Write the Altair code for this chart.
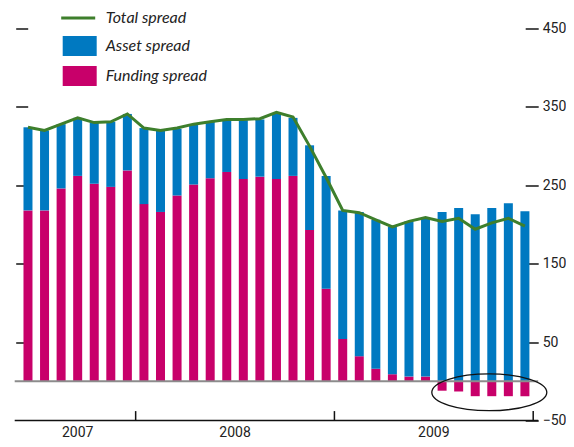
import altair as alt
import pandas as pd

# ---- data ----
months = ["2007-06", "2007-07", "2007-08", "2007-09", "2007-10", "2007-11", "2007-12",
          "2008-01", "2008-02", "2008-03", "2008-04", "2008-05", "2008-06",
          "2008-07", "2008-08", "2008-09", "2008-10", "2008-11", "2008-12",
          "2009-01", "2009-02", "2009-03", "2009-04", "2009-05", "2009-06",
          "2009-07", "2009-08", "2009-09", "2009-10", "2009-11", "2009-12"]
funding_spread = [218, 218, 246, 262, 252, 248, 269, 226, 216, 237, 251, 259, 267, 258, 261, 258,
                  262, 193, 118, 54, 32, 16, 9, 6, 6, -12, -13, -19, -19, -19, -19]
asset_spread = [106, 102, 82, 74, 78, 83, 72, 97, 104, 85, 76, 72, 67, 75, 73, 83,
                74, 108, 144, 164, 184, 190, 188, 198, 203, 216, 221, 213, 221, 227, 217]
total_spread = [324, 320, 328, 336, 330, 331, 341, 323, 320, 323, 328, 331, 334, 334, 335, 343,
                337, 300, 260, 218, 215, 206, 197, 204, 209, 204, 208, 194, 202, 208, 198]
years = ["2007", "2008", "2009"]
months_per_year = [7, 12, 12]
y_ticks = [-50, 50, 150, 250, 350, 450]

BLUE = "#0079C1"
MAGENTA = "#C8006A"
GREEN = "#3E7F2C"
NUM_FONT = "Roboto"
LEG_FONT = "Lato"

# ---- tables ----
rows = []
for i, m in enumerate(months):
    rows.append({"idx": i, "month": m, "series": "Funding spread", "value": funding_spread[i], "ord": 0})
    rows.append({"idx": i, "month": m, "series": "Asset spread", "value": asset_spread[i], "ord": 1})
bars_df = pd.DataFrame(rows)
line_df = pd.DataFrame({"idx": list(range(len(months))), "month": months,
                        "total": total_spread, "series": "Total spread"})

starts, ends, s = [], [], -0.5
for n in months_per_year:
    starts.append(s)
    ends.append(s + n)
    s += n
years_df = pd.DataFrame({"year": years, "start": starts, "end": ends,
                         "centre": [(a + b) / 2 for a, b in zip(starts, ends)]})

xscale = alt.Scale(domain=[-0.5, len(months) - 0.5], nice=False, zero=False)
yscale = alt.Scale(domain=[-50, 450], nice=False, zero=False)

bars = alt.Chart(bars_df).mark_bar(size=9).encode(
    x=alt.X("idx:Q", scale=xscale, axis=None),
    y=alt.Y("value:Q", scale=yscale, stack="zero",
            axis=alt.Axis(orient="right", values=y_ticks, offset=-13, tickSize=13,
                          tickColor="#222", tickWidth=1.6, domain=False, grid=False,
                          labelFont=NUM_FONT, labelFontSize=14, labelColor="#222",
                          labelPadding=4, title=None)),
    color=alt.Color("series:N",
                    scale=alt.Scale(domain=["Asset spread", "Funding spread"], range=[BLUE, MAGENTA]),
                    legend=alt.Legend(orient="none", legendX=55, legendY=7.5, title=None,
                                      symbolType="M-1.7,-1H1.7V1H-1.7Z", symbolSize=400,
                                      symbolStrokeWidth=0, labelFont=LEG_FONT,
                                      labelFontStyle="italic", labelFontSize=16,
                                      labelColor="#222", labelOffset=16, rowPadding=10,
                                      padding=0)),
    order=alt.Order("ord:Q"),
)

baseline = alt.Chart(pd.DataFrame({"v": [0]})).mark_rule(color="#8C8C8C", strokeWidth=2).encode(
    y=alt.Y("v:Q", scale=yscale, axis=None)
)

bottom_line = alt.Chart(pd.DataFrame({"v": [y_ticks[0]]})).mark_rule(color="#111", strokeWidth=1.5).encode(
    y=alt.Y("v:Q", scale=yscale, axis=None)
)

line = alt.Chart(line_df).mark_line(strokeWidth=3).encode(
    x=alt.X("idx:Q", scale=xscale, axis=None),
    y=alt.Y("total:Q", scale=yscale,
            axis=alt.Axis(orient="left", values=y_ticks[1:], offset=-13, tickSize=12,
                          tickColor="#222", tickWidth=1.6, domain=False, labels=False,
                          grid=False, title=None)),
    stroke=alt.Stroke("series:N", scale=alt.Scale(domain=["Total spread"], range=[GREEN]),
                      legend=alt.Legend(orient="none", legendX=52, legendY=-22, title=None,
                                        symbolType="M-1.7,0H1.7", symbolSize=400,
                                        symbolStrokeWidth=3, labelFont=LEG_FONT,
                                        labelFontStyle="italic", labelFontSize=16,
                                        labelColor="#222", labelOffset=16, padding=0)),
)

seps = alt.Chart(years_df).transform_calculate(lo="-50", hi="-38").mark_rule(
    color="#111", strokeWidth=1.5).encode(
    x=alt.X("end:Q", scale=xscale, axis=None),
    y=alt.Y("lo:Q", scale=yscale, axis=None),
    y2="hi:Q",
)

year_text = alt.Chart(years_df).transform_calculate(lo="-50").mark_text(
    baseline="alphabetic", dy=16.5, font=NUM_FONT, fontSize=14, color="#222").encode(
    x=alt.X("centre:Q", scale=xscale, axis=None),
    y=alt.Y("lo:Q", scale=yscale, axis=None),
    text="year:N",
)

ellipse_path = ("M1,0 C1,0.177 0.552,0.32 0,0.32 C-0.552,0.32 -1,0.177 -1,0 "
                "C-1,-0.177 -0.552,-0.32 0,-0.32 C0.552,-0.32 1,-0.177 1,0 Z")
ellipse = alt.Chart(pd.DataFrame({"cx": [27.85], "cy": [-14.0]})).mark_point(
    shape=ellipse_path, size=13225, filled=False, stroke="#111", strokeWidth=1.3, opacity=1).encode(
    x=alt.X("cx:Q", scale=xscale, axis=None),
    y=alt.Y("cy:Q", scale=yscale, axis=None),
)

chart = alt.layer(bars, baseline, bottom_line, line, seps, year_text, ellipse).resolve_axis(
    y="independent"
).resolve_scale(color="independent", stroke="independent").properties(
    width=523.5, height=392,
    padding={"left": 6.7, "top": 20.5, "right": 27.8, "bottom": 18.5},
    autosize=alt.AutoSizeParams(type="none"),
).configure_view(stroke=None)

chart.save("out.html", embed_options={"renderer": "svg", "actions": False})
